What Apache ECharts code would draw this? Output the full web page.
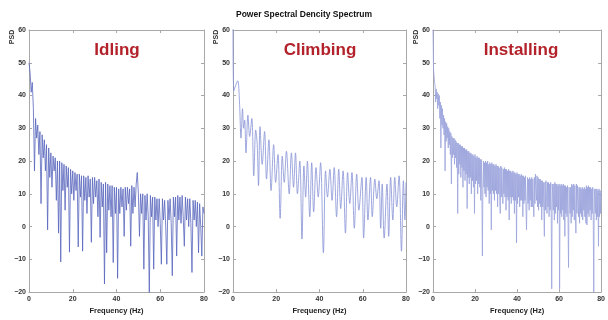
<!DOCTYPE html>
<html>
<head>
<meta charset="utf-8">
<script src="https://cdn.jsdelivr.net/npm/echarts@6/dist/echarts.min.js"></script>
<style>html,body{margin:0;padding:0;background:#fff}#c{width:608px;height:320px}</style>
</head>
<body>
<div id="c"></div>
<script>
// ---- data ----
const chartTitle = 'Power Spectral Dencity Spectrum';
const panelTitles = ['Idling', 'Climbing', 'Installing'];
const xTicks = [0, 20, 40, 60, 80];
const yTicks = [-20, -10, 0, 10, 20, 30, 40, 50, 60];

// Idling: PSD sampled every 0.5 Hz from 0 to 80 Hz
const idlingStep = 0.5;
const idlingPSD = [
  50,47,41,44,36,17,33,27,31,22,29,7,28,21,26.5,17,25,-1,24,15,
  22.5,12,21.5,17,21,8,20,-2,20,-10.8,19.5,11,19,5,18.5,12,18,-7.8,17.5,10,
  17,8,16.5,11,16,-6.2,16,9,15.5,-7.5,15.5,8,15,4,15.5,9,14.5,-4.8,15,7,
  15,9,14,3,14.5,-3.3,13.5,6,13,-17.5,13.5,-8,13,5,12.5,3,12.5,-11,12,4,
  12,-15.8,11.5,4,12,6,11.5,-3,12,5,12,7,11.5,-6,12.5,4,12,6,13,16.5,
  10,-3,10,4,10,-13,9.5,2,10,3,-21,9.5,3,9,-13,9,2,8.5,0,8.5,
  1,-11.5,8.5,2,8,0,-11.5,8,2,8.5,1,-15,9,3,9,-9,9.5,2,9,1,
  9.5,3,-6,9,2,8.5,0,8.5,1,-14,8,2,8,0,7.5,-8,7,0,-9,6,
  4
];

// Climbing: local peaks / troughs of the PSD curve
const climbFreq = [
  0,0.4,1.2,2.2,3.0,3.7,4.4,4.9,5.4,6.0,6.9,7.7,8.7,9.6,10.5,11.2,11.8,12.5,13.5,14.6,
  15.5,16.6,17.6,18.8,19.7,20.8,21.8,22.8,23.7,24.7,26.0,27.0,28.0,28.9,29.8,30.9,31.9,32.8,33.6,34.4,
  35.5,36.4,37.3,38.4,39.4,40.5,41.8,42.8,43.7,44.8,45.8,46.8,47.9,48.9,49.8,50.9,52.0,53.0,54.0,55.0,
  56.1,57.2,58.2,59.6,60.4,61.6,62.4,63.6,64.4,65.6,66.5,67.5,68.3,69.0,69.9,71.2,72.0,72.9,73.9,74.8,
  75.7,76.8,77.9,78.8,79.5,80
];
const climbPSD = [
  61,41.5,43,44.5,38,27,36,30,32.5,22.5,34,27.5,33,15.5,29.5,25,12.5,30.5,19,29,
  14.5,26.5,11,25,13.5,22,2.5,21.5,13.5,23,10,22.5,12,22.5,10,20,-3.8,18.5,9,20,
  3,19.5,4.5,18,9,19.5,-8,17,9,17.5,8,18,3,17.5,5.5,17,-2,16.5,7,16.5,
  -0.5,16,5,15,-3.5,15,2,15,3,14.5,8.5,14,-0.5,13,-3.5,13,-3,15,2,15,
  6,15.5,-7.5,14,2,13.5
];

// Installing: PSD sampled every 0.25 Hz from 0 to 80 Hz
const installStep = 0.25;
const installPSD = [
  60,48,46,44, 43,38,42,39, 41,36,40.5,37, 40,33,38,24, 37,31,36,30,
  34,28,33,17, 32,26,31.5,27, 30.5,24,30,25, 29,22,28.5,13, 27.5,21,27,22,
  27,19,26.5,21, 26,18,25.5,4, 25.5,16,25,19, 25,15,24.5,18, 24.5,12,24,17,
  24,14,23.5,16, 23.5,5.5,23,15, 23,13,22.5,15, 22.5,10,22,14, 22,12,21.5,4,
  22,13,21,14, 21.5,10,21,13, 21,12,20.5,8, 20.5,11,-9,12, 20,12,19.5,10,
  20,9,19.5,12, 20,11,19,7, 19.5,10,19,-1, 19.5,11,19,10, 19,8,18.5,11,
  19,10,18.5,6, 18.5,10,18,9, 4,18.5,9,18, 18,7,17.5,10, 18,9,17.5,5,
  17.5,9,17,8, 17.5,2,17,9, 17,7,16.5,9, 17,8,16.5,4, 16.5,8,16,-5,
  16.5,7,16,9, 16,6,15.5,8, 16,8,15.5,3, 15.5,7,15,8, 15.5,6,-1,8,
  15,7,14.5,5, 15,8,14.5,6, 15,6,14.5,7, 3,15,7,16, 16.5,8,15.5,6,
  15,5,14.5,7, 14.5,6,14,2, 14,6,13.5,5, -3,13.5,5,14, 14,4,13.5,6,
  13.5,3,13,5, 13.5,4,-19,13, 13.5,5,13,2, 13.5,4,13,6, 13,1,12.5,5,
  13,-19,12.5,4, 13,3,12.5,5, 13,2,12.5,-3, 12.5,4,12,3, 12.5,2,-12.5,12,
  12.5,4,12,1, 13,3,12.5,5, 13,2,12.5,4, -2,13,4,12.5, 12.5,3,12,1,
  12,4,11.5,3, 12,2,11.5,5, 12,3,11.5,1, 12.5,0.5,12,4, 12.5,3,12,5,
  12,2,11.5,4, 12,3,-20,11.5, 12,4,11.5,2, 11.5,3,11,-6, 11.5,3,11,4,
  11
];

// ---- build ----
const idlingData = idlingPSD.map((v, i) => [i * idlingStep, v]);
const climbData = climbFreq.map((f, i) => [f, climbPSD[i]]);
const installData = installPSD.map((v, i) => [i * installStep, v]);

const grids = [
  {left: 29, top: 30, width: 175, height: 267},
  {left: 233, top: 30, width: 173, height: 267},
  {left: 433, top: 30, width: 174, height: 267}
];
const frameColor = '#a8a8a8';
const labelStyle = {fontSize: 7, color: '#333', fontFamily: 'Liberation Sans, Arial, sans-serif', fontWeight: 'bold'};
const fmt = v => String(v).replace('-', '\u2212');

const xAxis = [], yAxis = [];
grids.forEach((g, i) => {
  const common = {
    gridIndex: i, type: 'value', min: xTicks[0], max: xTicks[xTicks.length - 1], interval: 20,
    axisLine: {show: true, onZero: false, lineStyle: {color: frameColor, width: 1}},
    axisTick: {show: true, inside: true, length: 3, lineStyle: {color: frameColor}},
    splitLine: {show: false}
  };
  xAxis.push(Object.assign({}, common, {
    position: 'bottom',
    axisLabel: Object.assign({margin: 3, formatter: fmt}, labelStyle),
    name: 'Frequency (Hz)', nameLocation: 'middle', nameGap: 13,
    nameTextStyle: {fontSize: 7.5, color: '#222', fontFamily: 'Liberation Sans, Arial, sans-serif', fontWeight: 'bold'}
  }));
  xAxis.push(Object.assign({}, common, {position: 'top', axisLabel: {show: false}}));
  const ycommon = {
    gridIndex: i, type: 'value', min: yTicks[0], max: yTicks[yTicks.length - 1], interval: 10,
    axisLine: {show: true, onZero: false, lineStyle: {color: frameColor, width: 1}},
    axisTick: {show: true, inside: true, length: 3, lineStyle: {color: frameColor}},
    splitLine: {show: false}
  };
  yAxis.push(Object.assign({}, ycommon, {
    position: 'left',
    axisLabel: Object.assign({margin: 3, formatter: fmt}, labelStyle)
  }));
  yAxis.push(Object.assign({}, ycommon, {position: 'right', axisLabel: {show: false}}));
});

const lineColors = ['#5866bd', '#8792d6', '#9aa3dc'];
const dataSets = [idlingData, climbData, installData];
const series = dataSets.map((d, i) => ({
  type: 'line', data: d, xAxisIndex: i * 2, yAxisIndex: i * 2,
  showSymbol: false, symbol: 'none', clip: true, smooth: i === 1 ? 0.35 : false,
  lineStyle: {color: lineColors[i], width: 0.8},
  animation: false
}));

const titles = [{
  text: chartTitle, left: 'center', top: 5,
  textStyle: {fontSize: 8.5, fontWeight: 'bold', color: '#111', fontFamily: 'Liberation Sans, Arial, sans-serif'}
}];
const centers = [112, 315, 516];
panelTitles.forEach((t, i) => titles.push({
  text: t, left: centers[i], top: 37, textAlign: 'center',
  textStyle: {fontSize: 17, fontWeight: 'bold', color: '#b3222b', fontFamily: 'Liberation Sans, Arial, sans-serif'}
}));

const psdX = [12, 216, 416];
const graphic = psdX.map(x => ({
  type: 'text', x: x, y: 37, rotation: Math.PI / 2,
  style: {text: 'PSD', fontSize: 7, fontWeight: 'bold', fill: '#333', align: 'center', verticalAlign: 'middle',
          fontFamily: 'Liberation Sans, Arial, sans-serif'}
}));

const chart = echarts.init(document.getElementById('c'), null, {renderer: 'canvas'});
chart.setOption({
  animation: false,
  backgroundColor: '#fff',
  title: titles,
  grid: grids.map(g => Object.assign({show: false, containLabel: false}, g)),
  xAxis: xAxis, yAxis: yAxis, series: series, graphic: graphic
});
</script>
</body>
</html>
